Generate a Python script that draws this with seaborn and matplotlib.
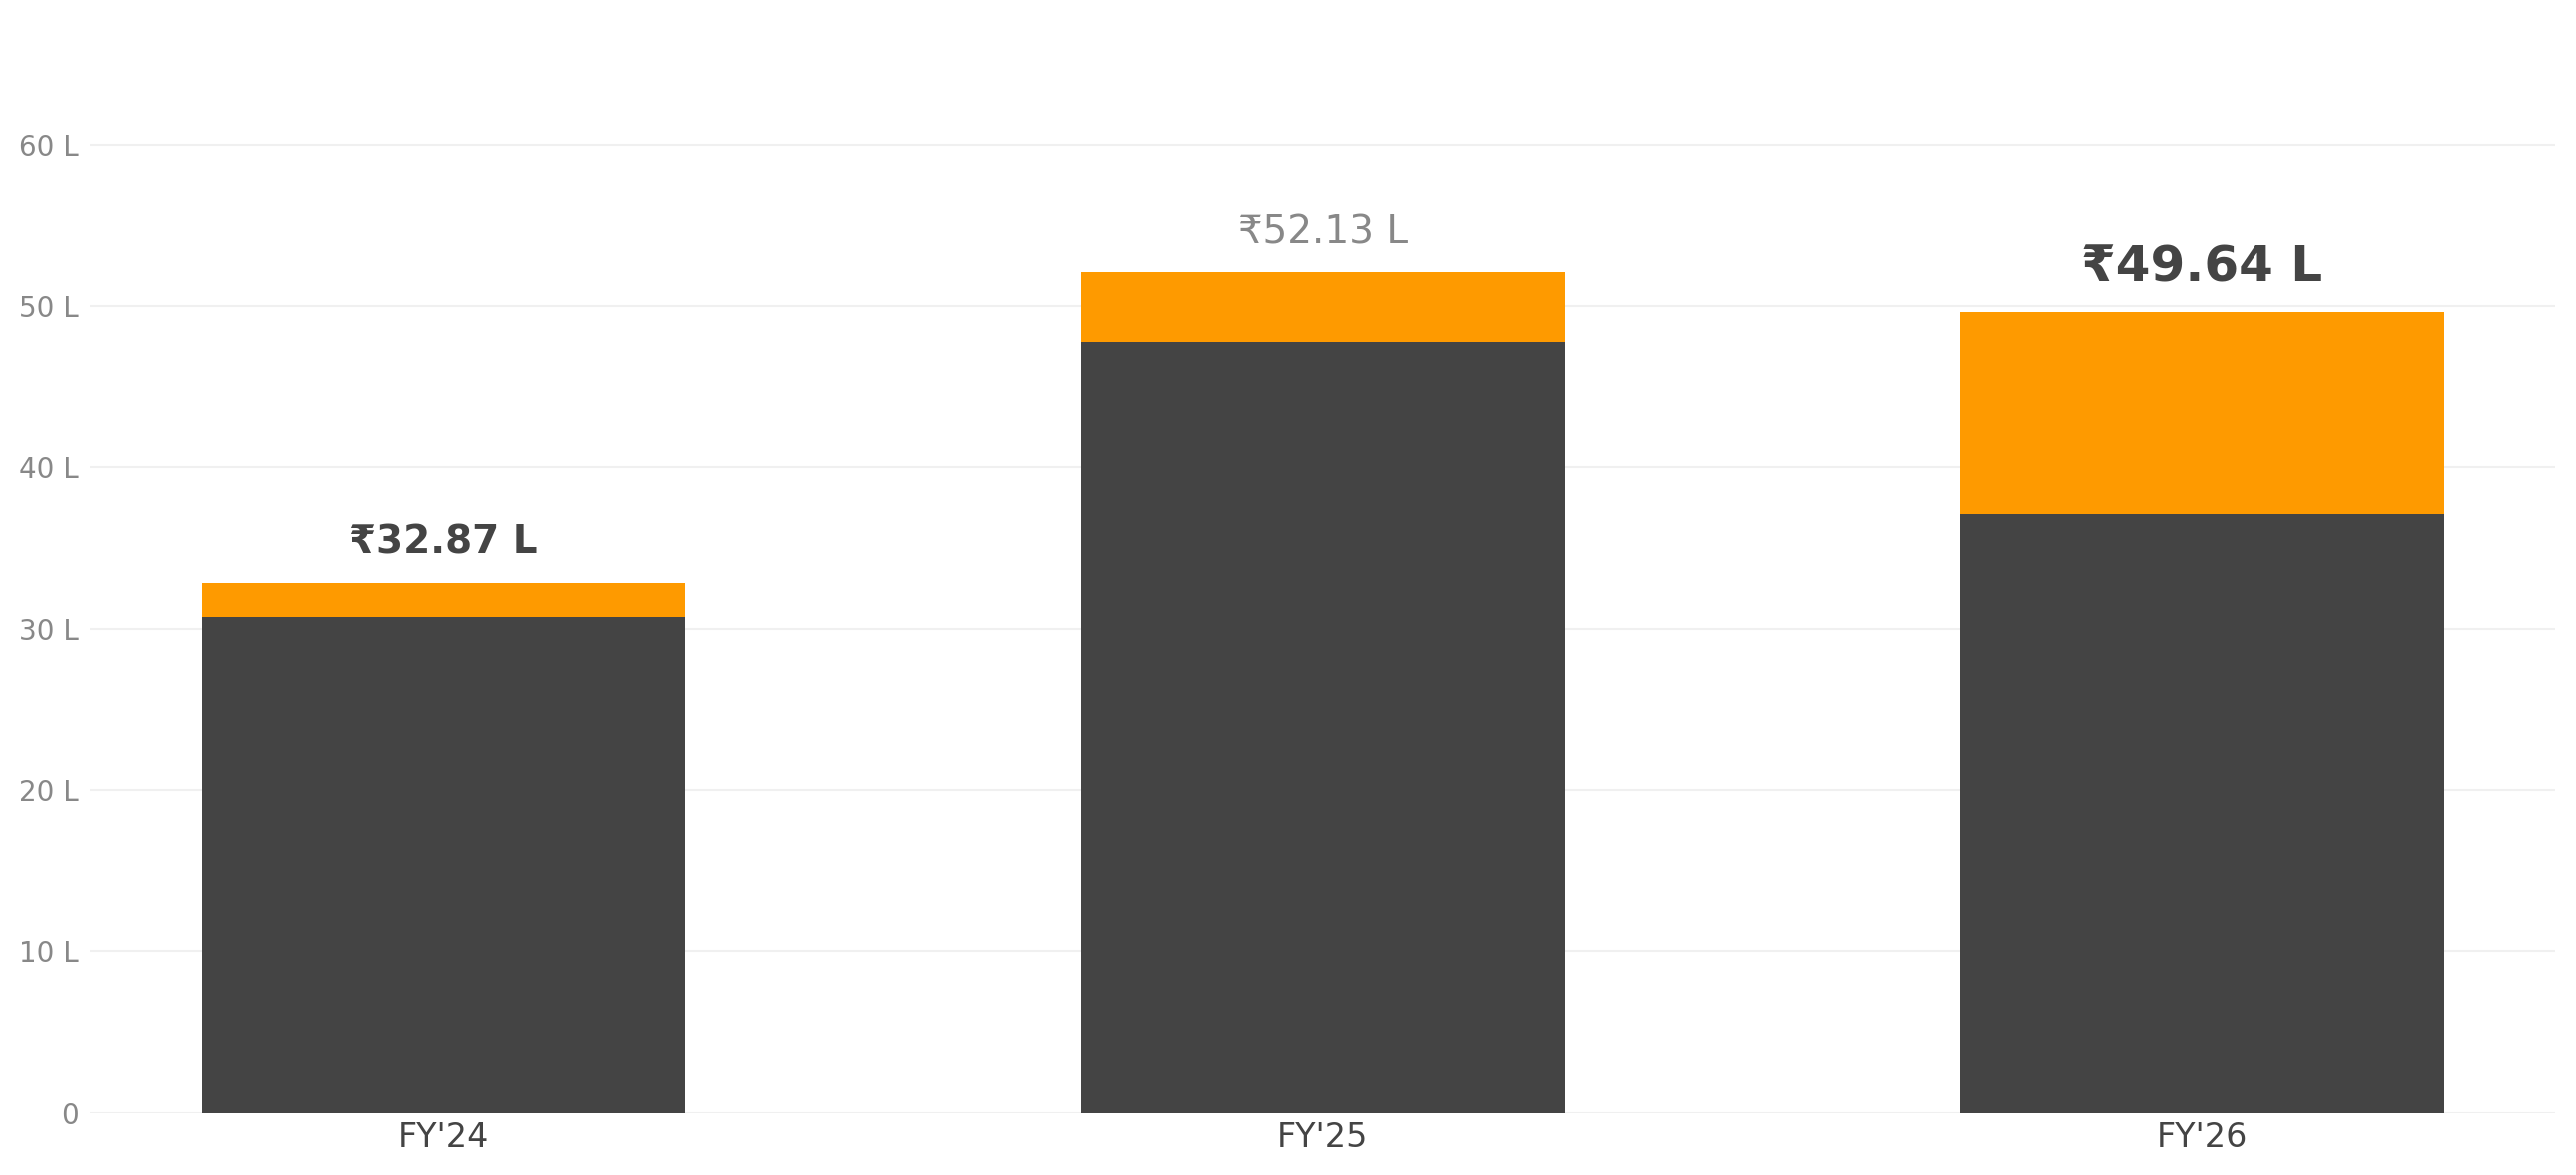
import matplotlib
matplotlib.use('Agg')
import matplotlib.pyplot as plt
import seaborn as sns
import pandas as pd
from matplotlib.ticker import FuncFormatter

# Data (values in lakh)
years = ["FY'24", "FY'25", "FY'26"]
base_values = [30.75, 47.77, 37.09]
totals = [32.87, 52.13, 49.64]
total_labels = ['₹32.87 L', '₹52.13 L', '₹49.64 L']

df = pd.DataFrame({'Year': years, 'Base': base_values, 'Total': totals})

sns.set_theme(style='white')
plt.rcParams['font.family'] = ['DejaVu Sans']

fig = plt.figure(figsize=(25.8, 11.77), dpi=100)
ax = fig.add_axes([0.035, 0.0531, 0.957, 0.892])

# orange = full total, dark drawn over it
sns.barplot(data=df, x='Year', y='Total', color='#FE9A00', width=0.55,
            saturation=1, linewidth=0, ax=ax, zorder=2)
sns.barplot(data=df, x='Year', y='Base', color='#444444', width=0.55,
            saturation=1, linewidth=0, ax=ax, zorder=3)

ax.set_ylim(0, 65)
ax.set_xlim(-0.402, 2.402)
ax.set_yticks([0, 10, 20, 30, 40, 50, 60])
ax.yaxis.set_major_formatter(FuncFormatter(lambda v, p: '0' if v == 0 else f'{int(v)} L'))
ax.grid(axis='y', color='#f0f0f0', linewidth=1.5, zorder=0)
ax.set_axisbelow(True)
for s in ax.spines.values():
    s.set_visible(False)
ax.tick_params(axis='y', labelsize=20, labelcolor='#888888', length=0, pad=8)
ax.tick_params(axis='x', labelsize=24, labelcolor='#444444', length=0, pad=6)
ax.set_xlabel('')
ax.set_ylabel('')

# total labels above bars
styles = [
    dict(fontsize=28, fontweight='bold', color='#444444'),
    dict(fontsize=28, fontweight='normal', color='#888888'),
    dict(fontsize=36, fontweight='bold', color='#444444'),
]
for i, (t, lab) in enumerate(zip(totals, total_labels)):
    ax.annotate(lab, xy=(i, t), xytext=(0, 15), textcoords='offset points',
                ha='center', va='bottom', **styles[i])

fig.savefig('out.png', dpi=100, facecolor='white')
